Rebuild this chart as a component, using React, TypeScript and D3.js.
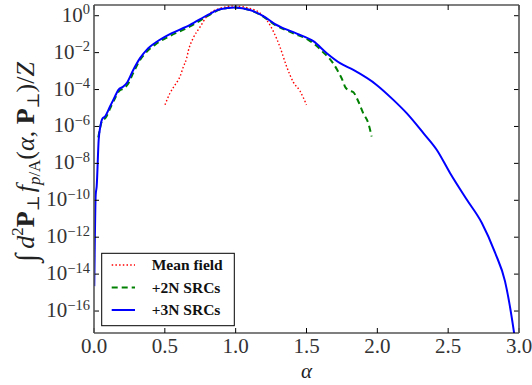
import React from "react";
import * as d3 from "d3";

// alpha values and log10 of the distribution
const blueAlpha = [0.002, 0.012, 0.019, 0.033, 0.045, 0.058, 0.078, 0.113, 0.148, 0.172, 0.207, 0.231, 0.277, 0.325, 0.372, 0.395, 0.443, 0.536, 0.678, 0.807, 0.889, 0.995, 1.101, 1.195, 1.278, 1.313, 1.431, 1.548, 1.643, 1.737, 1.831, 1.995, 2.113, 2.207, 2.325, 2.419, 2.513, 2.631, 2.737, 2.831, 2.901, 2.965, 2.98];
const blueLog = [-14.65, -9.7, -9.24, -6.72, -6.0, -5.6, -5.46, -4.92, -4.38, -4.02, -3.84, -3.65, -2.94, -2.3, -1.85, -1.68, -1.41, -1.0, -0.5, 0.06, 0.35, 0.45, 0.31, -0.02, -0.45, -0.59, -0.97, -1.38, -2.03, -2.57, -2.94, -3.75, -4.56, -5.28, -6.36, -7.26, -8.52, -9.96, -11.22, -12.84, -14.38, -17.17, -18.0];

const greenAlpha = [0.03, 0.06, 0.08, 0.115, 0.15, 0.175, 0.21, 0.235, 0.28, 0.325, 0.37, 0.44, 0.536, 0.678, 0.807, 0.889, 0.995, 1.101, 1.195, 1.278, 1.407, 1.513, 1.584, 1.62, 1.654, 1.69, 1.725, 1.76, 1.772, 1.8, 1.831, 1.866, 1.9, 1.936, 1.96];
const greenLog = [-6.6, -5.65, -5.55, -5.0, -4.45, -4.1, -3.93, -3.75, -3.05, -2.4, -1.97, -1.52, -1.1, -0.58, 0.0, 0.33, 0.44, 0.3, -0.05, -0.5, -0.95, -1.31, -1.72, -2.0, -2.25, -2.6, -3.05, -3.6, -3.85, -4.05, -4.15, -4.65, -5.28, -5.82, -6.54];

const redAlpha = [0.501, 0.536, 0.567, 0.595, 0.607, 0.631, 0.654, 0.666, 0.701, 0.748, 0.79, 0.889, 0.983, 1.101, 1.219, 1.266, 1.313, 1.36, 1.407, 1.454, 1.5];
const redLog = [-4.83, -4.2, -3.8, -3.48, -3.3, -2.76, -2.3, -1.9, -1.2, -0.62, -0.1, 0.4, 0.52, 0.4, -0.23, -0.85, -1.7, -2.76, -3.6, -4.08, -4.83];

const xTicks = [0, 0.5, 1.0, 1.5, 2.0, 2.5, 3.0];
const yTickExps = [0, -2, -4, -6, -8, -10, -12, -14, -16];

const seriesNames = ["Mean field", "+2N SRCs", "+3N SRCs"];
const seriesColors = ["#ff0000", "#008000", "#0000ff"];
const seriesDash = ["1.5,2.2", "6,4", ""];
const seriesWidth = [1.4, 2, 2];

const W = 532, H = 385;
const L = 94, R = 519, T = 5, B = 333;
const FONT = "Liberation Serif, DejaVu Serif, serif";

export default function App() {
  const x = d3.scaleLinear().domain([0, 3]).range([L, R]);
  const y = d3.scaleLog().domain([Math.pow(10, -17.19), Math.pow(10, 0.58)]).range([B, T]);

  const mk = (a: number[], lg: number[]) =>
    d3.line<number>()
      .x((_, i) => x(a[i]))
      .y((_, i) => y(Math.pow(10, lg[i])))
      .curve(d3.curveMonotoneX)(a)!;

  const paths = [mk(redAlpha, redLog), mk(greenAlpha, greenLog), mk(blueAlpha, blueLog)];

  return (
    <svg width={W} height={H} style={{ position: "absolute", left: 0, top: 0, fontFamily: FONT }}>
      <rect width={W} height={H} fill="white" />
      <defs>
        <clipPath id="plot">
          <rect x={L} y={T} width={R - L} height={B - T} />
        </clipPath>
      </defs>
      <g clipPath="url(#plot)">
        {paths.map((d, i) => (
          <path key={i} d={d} fill="none" stroke={seriesColors[i]} strokeWidth={seriesWidth[i]}
            strokeDasharray={seriesDash[i] || undefined} strokeLinejoin="round" />
        ))}
      </g>
      {/* ticks */}
      {xTicks.map((t) => (
        <g key={"x" + t}>
          <line x1={x(t)} x2={x(t)} y1={B} y2={B - 5} stroke="black" strokeWidth={1} />
          <line x1={x(t)} x2={x(t)} y1={T} y2={T + 5} stroke="black" strokeWidth={1} />
          <text x={x(t)} y={353} fontSize={21} textAnchor="middle" fill="#333">{t.toFixed(1)}</text>
        </g>
      ))}
      {yTickExps.map((e) => {
        const yy = y(Math.pow(10, e));
        return (
          <g key={"y" + e}>
            <line x1={L} x2={L + 5} y1={yy} y2={yy} stroke="black" strokeWidth={1} />
            <line x1={R} x2={R - 5} y1={yy} y2={yy} stroke="black" strokeWidth={1} />
            <text x={90} y={yy + 6} fontSize={21} textAnchor="end" fill="#333">
              10<tspan fontSize={14.5} dy={-7.5}>{e === 0 ? "0" : "\u2212" + Math.abs(e)}</tspan>
            </text>
          </g>
        );
      })}
      {/* spines */}
      <line x1={L} x2={R} y1={T} y2={T} stroke="black" strokeWidth={1.2} />
      <line x1={L} x2={R} y1={B} y2={B} stroke="black" strokeWidth={1.2} />
      <line x1={L} x2={L} y1={T} y2={B} stroke="#555" strokeWidth={1.6} />
      <line x1={R} x2={R} y1={T} y2={B} stroke="#555" strokeWidth={1.6} />
      {/* legend */}
      <rect x={101.7} y={253.3} width={132.6} height={72.4} fill="white" stroke="black" strokeWidth={1} />
      {seriesNames.map((n, i) => {
        const yy = 265 + i * 22.5;
        return (
          <g key={n}>
            <line x1={111.7} x2={135} y1={yy} y2={yy} stroke={seriesColors[i]} strokeWidth={seriesWidth[i]}
              strokeDasharray={seriesDash[i] || undefined} />
            <text x={151.7} y={yy + 5} fontSize={15.5} fontWeight="bold" fill="#111">{n}</text>
          </g>
        );
      })}
      {/* axis labels */}
      <text x={x(1.5)} y={378} fontSize={21} fontStyle="italic" textAnchor="middle" fill="#222">α</text>
      <text transform={`translate(34,162) rotate(-90)`} fontSize={26} textAnchor="middle" fill="#222">
        <tspan fontSize={30} dy={2}>∫</tspan><tspan fontStyle="italic" dx={5} dy={-2}>d</tspan><tspan fontSize={17} dy={-11}>2</tspan><tspan fontWeight="bold" dy={11}>P</tspan><tspan fontSize={17} dy={5}>⊥</tspan><tspan fontStyle="italic" dx={3} dy={-5}>f</tspan><tspan fontSize={17} dy={6} fontStyle="italic">p</tspan><tspan fontSize={17}>/A</tspan><tspan dy={-6}>(</tspan><tspan fontStyle="italic">α</tspan><tspan>, </tspan><tspan fontWeight="bold">P</tspan><tspan fontSize={17} dy={5}>⊥</tspan><tspan dy={-5}>)/</tspan><tspan fontStyle="italic">Z</tspan>
      </text>
    </svg>
  );
}
